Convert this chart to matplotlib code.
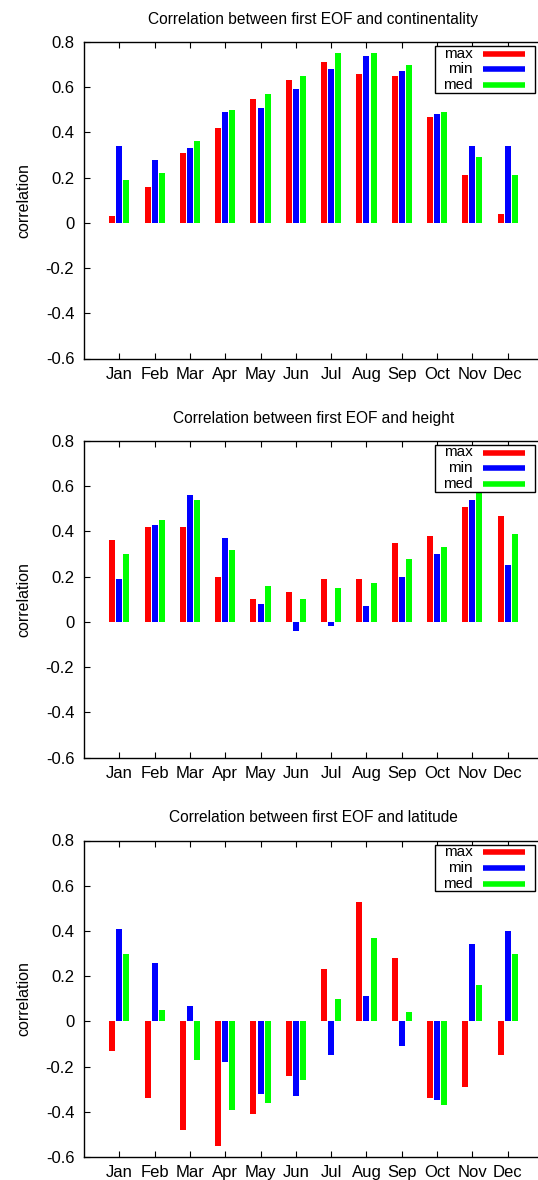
import matplotlib
matplotlib.use("Agg")
import matplotlib.pyplot as plt
from matplotlib.lines import Line2D
from matplotlib.patches import Rectangle
import numpy as np

months = ["Jan", "Feb", "Mar", "Apr", "May", "Jun", "Jul", "Aug", "Sep", "Oct", "Nov", "Dec"]
series_names = ["max", "min", "med"]
series_colors = ["#ff0000", "#0000ff", "#00ff00"]

titles = [
    "Correlation between first EOF and continentality",
    "Correlation between first EOF and height",
    "Correlation between first EOF and latitude",
]

cont_max = [0.03, 0.16, 0.31, 0.42, 0.55, 0.63, 0.71, 0.66, 0.65, 0.47, 0.21, 0.04]
cont_min = [0.34, 0.28, 0.33, 0.49, 0.51, 0.59, 0.68, 0.74, 0.67, 0.48, 0.34, 0.34]
cont_med = [0.19, 0.22, 0.36, 0.50, 0.57, 0.65, 0.75, 0.75, 0.70, 0.49, 0.29, 0.21]

height_max = [0.36, 0.42, 0.42, 0.20, 0.10, 0.13, 0.19, 0.19, 0.35, 0.38, 0.51, 0.47]
height_min = [0.19, 0.43, 0.56, 0.37, 0.08, -0.04, -0.02, 0.07, 0.20, 0.30, 0.54, 0.25]
height_med = [0.30, 0.45, 0.54, 0.32, 0.16, 0.10, 0.15, 0.17, 0.28, 0.33, 0.58, 0.39]

lat_max = [-0.13, -0.34, -0.48, -0.55, -0.41, -0.24, 0.23, 0.53, 0.28, -0.34, -0.29, -0.15]
lat_min = [0.41, 0.26, 0.07, -0.18, -0.32, -0.33, -0.15, 0.11, -0.11, -0.35, 0.34, 0.40]
lat_med = [0.30, 0.05, -0.17, -0.39, -0.36, -0.26, 0.10, 0.37, 0.04, -0.37, 0.16, 0.30]

panels = [
    (cont_max, cont_min, cont_med),
    (height_max, height_min, height_med),
    (lat_max, lat_min, lat_med),
]

yticks = [-0.6, -0.4, -0.2, 0, 0.2, 0.4, 0.6, 0.8]
ytick_labels = ["-0.6", "-0.4", "-0.2", "0", "0.2", "0.4", "0.6", "0.8"]

plt.rcParams["font.family"] = ["Liberation Sans", "DejaVu Sans"]

W, H = 538, 1180
fig = plt.figure(figsize=(W / 100, H / 100), dpi=100)

left_px = 84
right_px = 543
tops_px = [42, 441, 840.5]
height_px = 316.5

x = np.arange(1, len(months) + 1)
offsets = [-0.2, 0.0, 0.2]
bar_w = 0.17


def fy(py):
    return 1 - py / H


for i, (title, data) in enumerate(zip(titles, panels)):
    top = tops_px[i]
    ax = fig.add_axes([left_px / W, fy(top + height_px),
                       (right_px - left_px) / W, height_px / H])
    for vals, name, col, off in zip(data, series_names, series_colors, offsets):
        ax.bar(x + off, vals, width=bar_w, color=col, edgecolor="none",
               label=name, zorder=2)
    ax.set_xlim(0, 13)
    ax.set_ylim(-0.6, 0.8)
    ax.set_xticks(x)
    ax.set_xticklabels(months)
    ax.set_yticks(yticks)
    ax.set_yticklabels(ytick_labels)
    ax.tick_params(direction="in", length=4, width=0.8, labelsize=12,
                   top=True, right=False, pad=7, colors="black")
    ax.tick_params(axis="x", pad=6)
    ax.spines["right"].set_visible(False)
    for s in ax.spines.values():
        s.set_linewidth(1.0)
    ax.set_ylabel("correlation", fontsize=11.5, labelpad=10)
    ax.set_title(title, fontsize=11.2, pad=13)

    # legend box (gnuplot style: label, then colour sample)
    box_l, box_r = 435, 535
    box_t, box_b = top + 4, top + 50.7
    rect = Rectangle((box_l / W, fy(box_b)), (box_r - box_l) / W, (box_b - box_t) / H,
                     transform=fig.transFigure, facecolor="white", edgecolor="black",
                     linewidth=1.0, zorder=10)
    fig.add_artist(rect)
    for k, (name, col) in enumerate(zip(series_names, series_colors)):
        ry = top + 11.5 + 15.8 * k
        fig.text(472.5 / W, fy(ry), name, ha="right", va="center", fontsize=11,
                 zorder=11)
        fig.add_artist(Line2D([483 / W, 525 / W], [fy(ry), fy(ry)],
                              transform=fig.transFigure, color=col, lw=4,
                              solid_capstyle="butt", zorder=11))

fig.savefig("out.png", dpi=100)
